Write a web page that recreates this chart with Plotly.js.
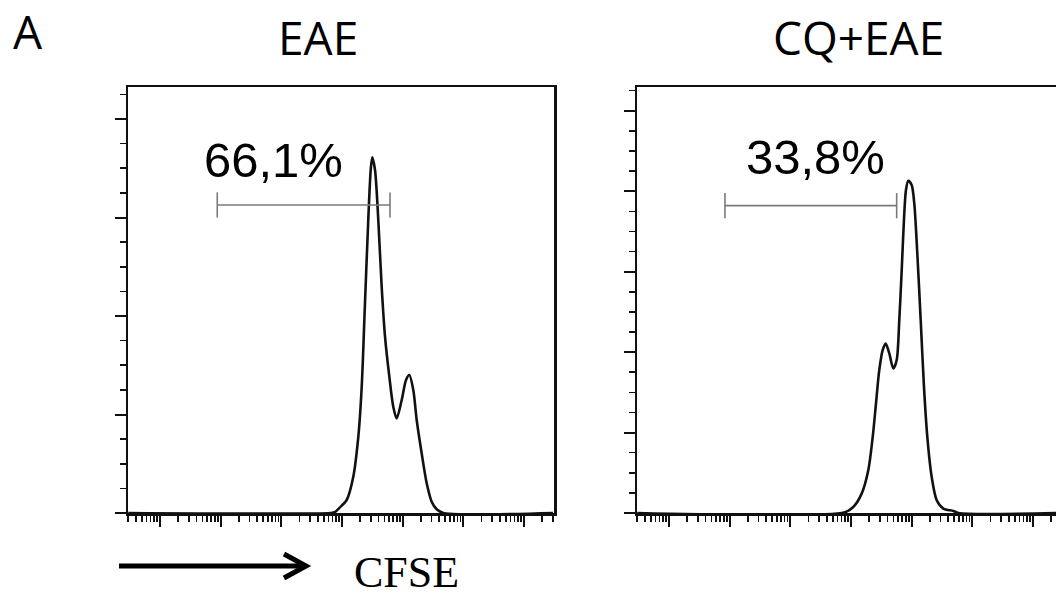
<!DOCTYPE html>
<html>
<head>
<meta charset="utf-8">
<script src="https://cdn.plot.ly/plotly-3.0.1.min.js"></script>
<style>html,body{margin:0;padding:0;background:#fff;}#chart{width:1056px;height:596px;}</style>
</head>
<body>
<div id="chart"></div>
<script>
// ---- data (CFSE intensity, cell count) ----
const eaeCFSE  = [0.3, 650, 760, 900, 1194, 1535, 1858, 2113, 2393, 2710, 2972, 3155, 3499, 3963, 4508, 5117, 6026, 6998, 7962, 9638, 11350, 12850, 14960, 17020, 20560, 24890, 30060, 36390, 46770, 3000000];
const eaeCount = [0,   0,   0.8, 5,   13.2, 36.9, 77.5, 128.2, 213.2, 297.5, 348.2, 361.1, 348.2, 297.5, 229.7, 179, 138.4, 107.9, 96.1, 114.7, 135, 140.1, 124.9, 94.4, 60.6, 30.2, 11.5, 3.8, 0, 0];

const cqCFSE  = [0.3, 796, 1091, 1500, 1928, 2280, 2582, 2924, 3327, 3733, 4276, 4977, 5662, 6252, 6855, 7464, 8054, 8790, 10000, 11040, 12390, 14090, 15960, 18110, 21380, 25880, 33270, 48640, 58750, 3000000];
const cqCount = [0,   1,   7.5,  24.1, 53.1, 94.5, 136.1, 177.5, 202.4, 210.7, 198.3, 179.6, 189.9, 239.7, 301.9, 364.1, 401.4, 412.9, 407.6, 384.8, 322.6, 239.7, 156.7, 94.5, 44.8, 15.8, 5.5, 2.5, 0, 0];

// gates: [start, end] CFSE and gate height
const eaeGate = [8.79, 6180];  const eaeGateY = 312.7; const eaeGateLabel = "66,1%";
const cqGate  = [8.37, 5662];  const cqGateY  = 382;   const cqGateLabel  = "33,8%";

const panelTitles = ["EAE", "CQ+EAE"];
const panelLetter = "A";
const axisLabel = "CFSE";

// ---- geometry helpers (pixel -> paper) ----
const W = 1056, H = 596;
const px = v => v / W;
const py = v => 1 - v / H;

const curveLine = {color: '#111', width: 2.6, shape: 'spline', smoothing: 0.8};
const gateStyle = {color: '#7a7a7a', width: 1.6};

const traces = [
  {x: eaeCFSE, y: eaeCount, xaxis: 'x', yaxis: 'y', mode: 'lines', line: curveLine, hoverinfo: 'skip'},
  {x: cqCFSE, y: cqCount, xaxis: 'x2', yaxis: 'y2', mode: 'lines', line: curveLine, hoverinfo: 'skip'},
  {x: eaeGate, y: [eaeGateY, eaeGateY], xaxis: 'x', yaxis: 'y', mode: 'lines+markers', line: gateStyle,
   marker: {symbol: 'line-ns-open', size: 18, line: {color: '#7a7a7a', width: 1.6}}, hoverinfo: 'skip'},
  {x: cqGate, y: [cqGateY, cqGateY], xaxis: 'x2', yaxis: 'y2', mode: 'lines+markers', line: gateStyle,
   marker: {symbol: 'line-ns-open', size: 18, line: {color: '#7a7a7a', width: 1.6}}, hoverinfo: 'skip'}
];

function xAxis(domain, range) {
  return {
    domain: domain, type: 'log', range: range, dtick: 1, tick0: 0,
    showgrid: false, zeroline: false, showticklabels: false,
    showline: true, linecolor: '#111', linewidth: 2.5, mirror: true,
    ticks: 'outside', ticklen: 11, tickwidth: 2, tickcolor: '#111',
    minor: {dtick: 'D1', ticks: 'outside', ticklen: 6, tickwidth: 1.6, tickcolor: '#111', showgrid: false},
    fixedrange: true
  };
}
function yAxis(anchor, range, mirror) {
  return {
    domain: [py(513), py(87)], anchor: anchor, range: range, dtick: 100, tick0: 0,
    showgrid: false, zeroline: false, showticklabels: false,
    showline: true, linecolor: '#111', linewidth: 2.5, mirror: mirror,
    ticks: 'outside', ticklen: 11, tickwidth: 2, tickcolor: '#111',
    minor: {dtick: 25, ticks: 'outside', ticklen: 6, tickwidth: 1.6, tickcolor: '#111', showgrid: false},
    fixedrange: true
  };
}

const mid = {xanchor: 'center', yanchor: 'middle', showarrow: false};

const layout = {
  width: W, height: H,
  margin: {l: 0, r: 0, t: 0, b: 0},
  paper_bgcolor: '#fff', plot_bgcolor: '#fff',
  showlegend: false,
  xaxis: Object.assign(xAxis([px(128), px(554)], [-0.527, 6.494]), {anchor: 'y'}),
  yaxis: yAxis('x', [0, 432.5], true),
  xaxis2: Object.assign(xAxis([px(637), 1], [-0.527, 6.379]), {anchor: 'y2'}),
  yaxis2: yAxis('x2', [0, 529.5], false),
  annotations: [
    Object.assign({text: eaeGateLabel, xref: 'x', yref: 'y', x: 1.879, y: 358,
     font: {family: 'Liberation Sans, Arial, sans-serif', size: 49, color: '#000'}}, mid),
    Object.assign({text: cqGateLabel, xref: 'x2', yref: 'y2', x: 2.415, y: 442,
     font: {family: 'Liberation Sans, Arial, sans-serif', size: 49, color: '#000'}}, mid),
    Object.assign({text: panelTitles[0], xref: 'paper', yref: 'paper', x: px(317.5), y: py(37),
     font: {family: 'Open Sans, sans-serif', size: 46, color: '#000'}}, mid),
    Object.assign({text: panelTitles[1], xref: 'paper', yref: 'paper', x: px(858), y: py(37),
     font: {family: 'Open Sans, sans-serif', size: 46, color: '#000'}}, mid),
    Object.assign({text: panelLetter, xref: 'paper', yref: 'paper', x: px(28), y: py(31),
     font: {family: 'Open Sans, sans-serif', size: 46, color: '#000'}}, mid),
    Object.assign({text: axisLabel, xref: 'paper', yref: 'paper', x: px(406.5), y: py(572),
     font: {family: 'Liberation Serif, Times New Roman, serif', size: 44, color: '#000'}}, mid)
  ],
  shapes: [
    {type: 'line', xref: 'paper', yref: 'paper', x0: px(119), y0: py(566), x1: px(303), y1: py(566),
     line: {color: '#000', width: 5}},
    {type: 'path', xref: 'paper', yref: 'paper',
     path: 'M ' + px(284) + ' ' + py(554) + ' L ' + px(306) + ' ' + py(566) + ' L ' + px(284) + ' ' + py(578),
     line: {color: '#000', width: 5}}
  ]
};

Plotly.newPlot('chart', traces, layout, {staticPlot: true, displayModeBar: false});
</script>
</body>
</html>
